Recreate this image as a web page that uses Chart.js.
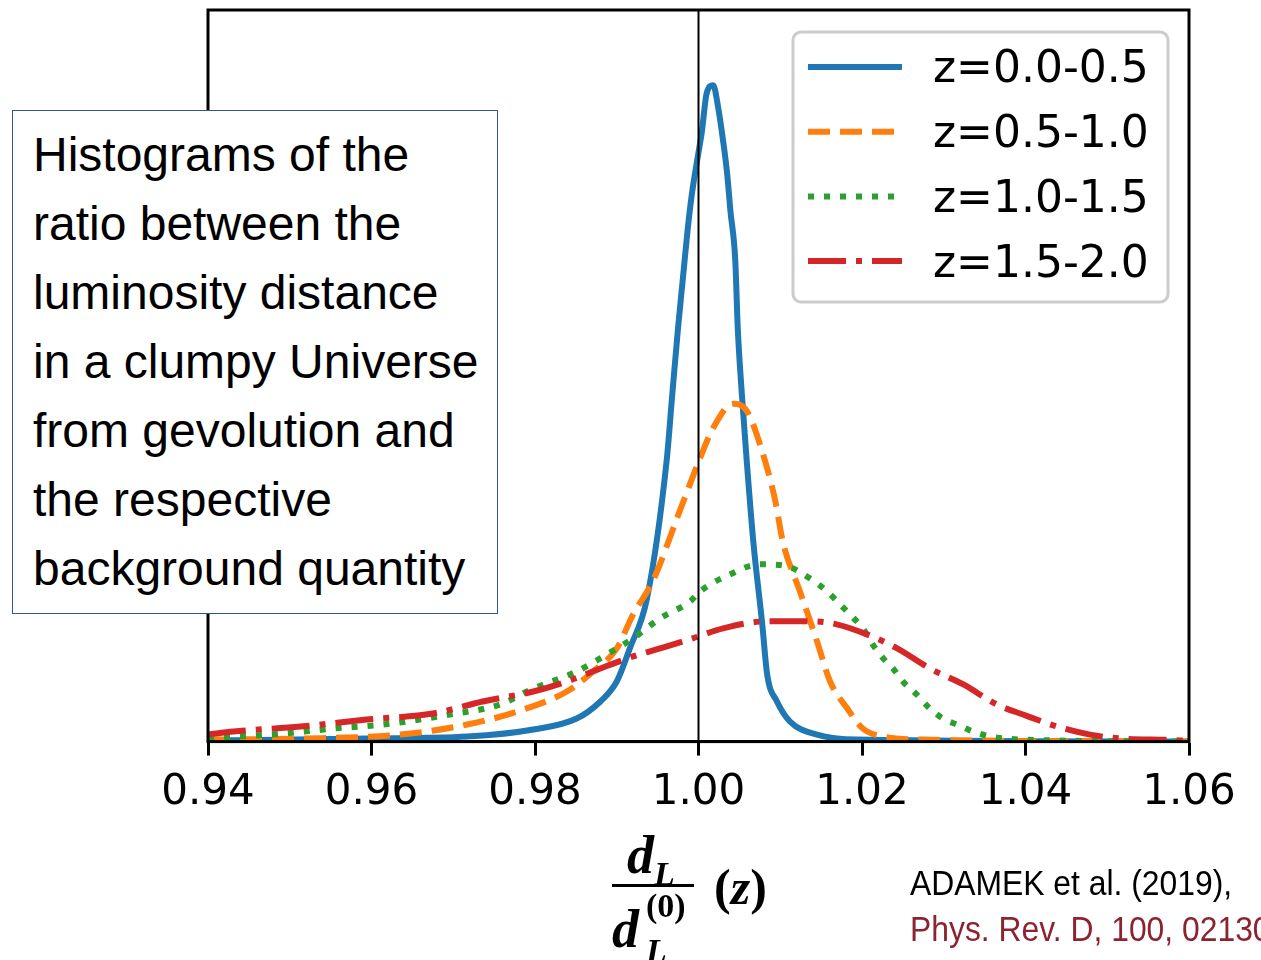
<!DOCTYPE html>
<html>
<head>
<meta charset="utf-8">
<script src="https://cdn.jsdelivr.net/npm/chart.js@4.4.1/dist/chart.umd.min.js"></script>
<style>
  html, body { margin: 0; padding: 0; background: #fff; }
  #wrap { position: relative; width: 1261px; height: 960px; overflow: hidden; }
  #chart { position: absolute; left: 0; top: 0; }
  .note {
    position: absolute; left: 12px; top: 110px; width: 464px; height: 484px;
    padding: 9px 0 9px 20px;
    border: 1.5px solid #2f5597; background: #fff;
    font-family: "Liberation Sans", Arial, sans-serif; font-size: 48px; line-height: 69px; color: #000;
    white-space: nowrap;
  }
  .math { position: absolute; font-family: "Liberation Serif", "Times New Roman", serif;
    font-weight: bold; font-style: italic; font-size: 54px; line-height: 54px; color: #000; white-space: nowrap; }
  .math .sub { font-size: 34px; position: relative; top: 12px; }
  .up { font-style: normal; }
  .bar { position: absolute; left: 612px; top: 884px; width: 82px; height: 3px; background: #000; }
  .cite { position: absolute; left: 910px; font-family: "Liberation Sans Narrow", "Arial Narrow", "Liberation Sans", sans-serif;
    font-size: 35px; line-height: 40px; white-space: nowrap; transform: scaleX(0.91); transform-origin: 0 0; }
</style>
</head>
<body>
<div id="wrap">
  <canvas id="chart" width="1261" height="960"></canvas>
  <div class="note">Histograms of the<br>ratio between the<br>luminosity distance<br>in a clumpy Universe<br>from gevolution and<br>the respective<br>background quantity</div>
  <div class="math" style="left:627px; top:828px;">d<span class="sub">L</span></div>
  <div class="bar"></div>
  <div class="math" style="left:612px; top:902px;">d</div>
  <div class="math up" style="left:646px; top:889px; font-size:34px; line-height:34px;">(0)</div>
  <div class="math" style="left:646px; top:934px; font-size:34px; line-height:34px;">L</div>
  <div class="math" style="left:714px; top:860px; font-size:50px;"><span class="up">(</span>z<span class="up">)</span></div>
  <div class="cite" style="top:863px; color:#000;">ADAMEK et al. (2019),</div>
  <div class="cite" style="top:909px; color:#8c2331;">Phys. Rev. D, 100, 021301</div>
</div>
<script>
// x ticks along the ratio axis
const xTicks = [0.94, 0.96, 0.98, 1.00, 1.02, 1.04, 1.06];

const seriesNames = ['z=0.0-0.5', 'z=0.5-1.0', 'z=1.0-1.5', 'z=1.5-2.0'];

// histogram heights (arbitrary units)
const blueX = [0.9400, 0.9594, 0.9717, 0.9798, 0.9851, 0.9880, 0.9900, 0.9916, 0.9937, 0.9961, 0.9968, 0.9975, 0.9981, 0.9987, 0.9992, 0.9999, 1.0004, 1.0010, 1.0018, 1.0024, 1.0030, 1.0035, 1.0039, 1.0045, 1.0048, 1.0053, 1.0059, 1.0067, 1.0078, 1.0084, 1.0096, 1.0112, 1.0145, 1.0194, 1.0600];
const blueY = [1, 3, 5, 12, 23, 40, 60, 93, 143, 280, 347, 413, 463, 513, 547, 583, 608, 647, 655, 633, 600, 567, 530, 480, 413, 347, 280, 200, 117, 67, 40, 20, 7, 2, 0];

const orangeX = [0.9400, 0.9513, 0.9635, 0.9717, 0.9778, 0.9839, 0.9871, 0.9900, 0.9920, 0.9944, 0.9977, 1.0002, 1.0018, 1.0042, 1.0059, 1.0075, 1.0094, 1.0103, 1.0124, 1.0145, 1.0161, 1.0182, 1.0201, 1.0226, 1.0275, 1.0600];
const orangeY = [2, 3, 7, 17, 30, 50, 70, 93, 127, 160, 230, 283, 313, 337, 330, 297, 240, 200, 150, 100, 60, 33, 13, 5, 2, 0];

const greenX = [0.9400, 0.9431, 0.9492, 0.9553, 0.9614, 0.9696, 0.9757, 0.9798, 0.9851, 0.9888, 0.9920, 0.9953, 0.9990, 1.0002, 1.0039, 1.0075, 1.0108, 1.0136, 1.0157, 1.0173, 1.0185, 1.0201, 1.0213, 1.0226, 1.0238, 1.0250, 1.0267, 1.0283, 1.0299, 1.0316, 1.0336, 1.0357, 1.0397, 1.0600];
const greenY = [4, 5, 8, 13, 17, 27, 37, 53, 70, 87, 103, 123, 140, 150, 167, 177, 175, 163, 150, 137, 127, 113, 97, 83, 73, 60, 47, 33, 23, 17, 10, 5, 2, 0];

const redX = [0.9400, 0.9431, 0.9513, 0.9594, 0.9675, 0.9736, 0.9798, 0.9839, 0.9880, 0.9920, 0.9953, 0.9993, 1.0030, 1.0084, 1.0140, 1.0169, 1.0206, 1.0243, 1.0283, 1.0324, 1.0365, 1.0397, 1.0439, 1.0479, 1.0519, 1.0593, 1.0600];
const redY = [7, 10, 15, 22, 28, 40, 50, 60, 73, 85, 93, 103, 113, 120, 120, 117, 107, 93, 73, 57, 37, 27, 15, 7, 3, 1, 0];

function pts(xs, ys) {
    return xs.map((x, i) => ({ x: x, y: ys[i] }));
}

const LW = 6;

// frame, vertical line at 1.00 and the boxed legend
const extras = {
    id: 'extras',
    afterDatasetsDraw(chart) {
        const ctx = chart.ctx;
        const a = chart.chartArea;
        const xs = chart.scales.x;
        ctx.save();
        ctx.strokeStyle = '#000';
        ctx.lineWidth = 2;
        const x1 = xs.getPixelForValue(1.0);
        ctx.beginPath();
        ctx.moveTo(x1, a.top);
        ctx.lineTo(x1, a.bottom);
        ctx.stroke();
        ctx.lineWidth = 3;
        ctx.strokeRect(a.left, a.top, a.right - a.left, a.bottom - a.top);

        // legend box
        const bx = 793, by = 32, bw = 375, bh = 270, r = 8;
        ctx.beginPath();
        ctx.roundRect(bx, by, bw, bh, r);
        ctx.fillStyle = 'rgba(255,255,255,0.85)';
        ctx.fill();
        ctx.strokeStyle = '#cccccc';
        ctx.lineWidth = 3;
        ctx.stroke();
        chart.data.datasets.forEach((ds, i) => {
            const y = 67 + i * 64.7;
            ctx.beginPath();
            ctx.setLineDash(ds.borderDash || []);
            ctx.strokeStyle = ds.borderColor;
            ctx.lineWidth = LW;
            ctx.moveTo(808, y);
            ctx.lineTo(902, y);
            ctx.stroke();
            ctx.setLineDash([]);
            ctx.fillStyle = '#000';
            ctx.font = '44px "DejaVu Sans"';
            ctx.textBaseline = 'middle';
            ctx.fillText(ds.label, 933, y + 4);
        });
        ctx.restore();
    }
};

const ctx = document.getElementById('chart').getContext('2d');
const chart = new Chart(ctx, {
    type: 'line',
    data: {
        datasets: [
            { label: seriesNames[0], data: pts(blueX, blueY), borderColor: '#1f77b4', order: 3 },
            { label: seriesNames[1], data: pts(orangeX, orangeY), borderColor: '#ff7f0e', borderDash: [22, 10], order: 2 },
            { label: seriesNames[2], data: pts(greenX, greenY), borderColor: '#2ca02c', borderDash: [6, 10], order: 1 },
            { label: seriesNames[3], data: pts(redX, redY), borderColor: '#d62728', borderDash: [38, 10, 6, 10], order: 0 }
        ]
    },
    options: {
        responsive: false,
        animation: false,
        events: [],
        layout: { padding: { left: 208, right: 72, top: 10, bottom: 130 } },
        elements: {
            point: { radius: 0 },
            line: { borderWidth: LW, fill: false, cubicInterpolationMode: 'monotone' }
        },
        plugins: {
            legend: { display: false },
            tooltip: { enabled: false }
        },
        scales: {
            x: {
                type: 'linear',
                min: 0.94,
                max: 1.06,
                afterBuildTicks: axis => { axis.ticks = xTicks.map(v => ({ value: v })); },
                grid: { display: true, drawOnChartArea: false, drawTicks: true, tickLength: 14, tickWidth: 3, tickColor: '#000' },
                border: { display: true, color: '#000', width: 3 },
                ticks: {
                    color: '#000',
                    padding: 12,
                    maxRotation: 0,
                    autoSkip: false,
                    font: { family: '"DejaVu Sans"', size: 42 },
                    callback: v => Number(v).toFixed(2)
                }
            },
            y: {
                display: false,
                min: 0,
                max: 730
            }
        }
    },
    plugins: [extras]
});
</script>
</body>
</html>
